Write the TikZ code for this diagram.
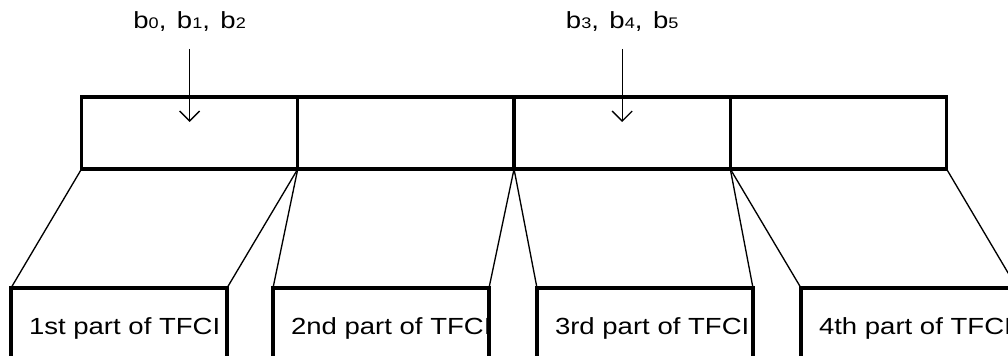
\documentclass[tikz,border=0pt]{standalone}
\usepackage{fontspec}
\setmainfont{Liberation Sans}[FakeStretch=1.18]
\usetikzlibrary{positioning,arrows.meta}

\tikzset{
  field/.style={draw,line width=2.4pt,minimum width=162.2pt,minimum height=54pt,inner sep=0pt,outer sep=0pt},
  part/.style={draw,line width=2.4pt,anchor=north west,inner xsep=13.5pt,inner ysep=0pt,outer sep=0pt,
    text height=35pt,text depth=40pt,font=\fontsize{17.5}{21}\selectfont},
  bits/.style={inner sep=0pt,font=\fontsize{17.5}{21}\selectfont},
  feed/.style={-{Straight Barb[length=7.5pt,width=15pt]},line width=1pt},
  split/.style={line width=1pt}
}
\newcommand{\dg}[1]{{\fontsize{11.5}{13}\selectfont #1}}
\newcommand{\sep}{,\hspace{0.45em}}
\newcommand{\partof}[1]{\makebox[135pt][l]{#1 part of TFCI}}

\begin{document}
\begin{tikzpicture}[x=0.75pt,y=-0.75pt]
  \useasboundingbox (0,0) rectangle (1008,356);
  \clip (0,0) rectangle (1008,356);

  % the four fields on top
  \node[field,anchor=north west] (top1) at (81.5,97) {};
  \node[field,right=0pt of top1] (top2) {};
  \node[field,right=0pt of top2] (top3) {};
  \node[field,right=0pt of top3] (top4) {};

  % the four parts below
  \node[part] (part1) at (11,288) {\partof{1st}};
  \node[part,right=34.5pt of part1] (part2) {\partof{2nd}};
  \node[part,right=36pt of part2] (part3) {\partof{3rd}};
  \node[part,right=36pt of part3] (part4) {\partof{4th}};

  \foreach \i in {1,...,4}{
    \draw[split] (top\i.south west) -- (part\i.north west);
    \draw[split] (top\i.south east) -- (part\i.north east);
  }

  % bits fed into fields 1 and 3
  \node[bits,above=49pt of top1] (bits1) {b\dg{0}\sep b\dg{1}\sep b\dg{2}};
  \node[bits,above=49pt of top3] (bits3) {b\dg{3}\sep b\dg{4}\sep b\dg{5}};

  \draw[feed,shorten <=13pt,shorten >=8.25pt] (bits1.south) -- (top1.center);
  \draw[feed,shorten <=13pt,shorten >=8.25pt] (bits3.south) -- (top3.center);
\end{tikzpicture}
\end{document}
